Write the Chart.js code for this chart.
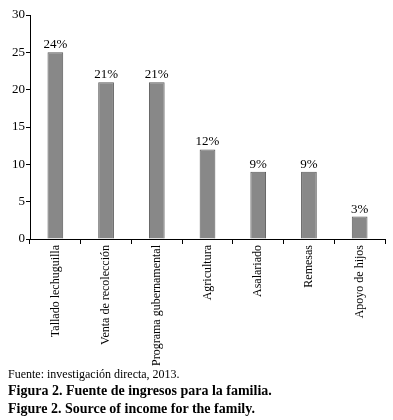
<!DOCTYPE html>
<html><head><meta charset="utf-8">
<script src="https://cdn.jsdelivr.net/npm/chart.js@4"></script>
<style>
html,body{margin:0;padding:0;background:#fff;width:393px;height:420px;overflow:hidden;font-family:"Liberation Serif","Times New Roman",serif;}
#wrap{position:absolute;left:0;top:0;width:393px;height:420px;}
.t{position:absolute;left:8px;white-space:nowrap;color:#000;}
</style></head><body>
<div id="wrap"><canvas id="c"></canvas></div>
<div class="t" style="top:367px;font-size:12px;">Fuente: investigación directa, 2013.</div>
<div class="t" style="top:383px;font-size:14px;font-weight:bold;">Figura 2. Fuente de ingresos para la familia.</div>
<div class="t" style="top:401px;font-size:14px;font-weight:bold;">Figure 2. Source of income for the family.</div>
<script>
const categories = ["Tallado lechuguilla","Venta de recolección","Programa gubernamental","Agricultura","Asalariado","Remesas","Apoyo de hijos"];
const values = [25, 21, 21, 12, 9, 9, 3];
const valueLabels = ["24%","21%","21%","12%","9%","9%","3%"];
const yTicks = [0,5,10,15,20,25,30];

const labelPlugin = {
  id:'vlabels',
  afterDatasetsDraw(chart){
    const ctx = chart.ctx;
    const meta = chart.getDatasetMeta(0);
    ctx.save();
    ctx.font = '13px "Liberation Serif", serif';
    ctx.fillStyle = '#000';
    ctx.textAlign = 'center';
    ctx.textBaseline = 'bottom';
    meta.data.forEach((bar,i)=>{
      ctx.fillText(valueLabels[i], bar.x, bar.y - 1);
    });
    ctx.restore();
  }
};

new Chart(document.getElementById('c'), {
  type:'bar',
  data:{labels:categories, datasets:[{data:values, backgroundColor:'#888888', borderColor:'#5a5a5a', borderWidth:1, categoryPercentage:1, barPercentage:0.31}]},
  options:{
    responsive:true, maintainAspectRatio:false, animation:false,
    layout:{padding:{top:15,right:8,left:0,bottom:0}},
    plugins:{legend:{display:false}, tooltip:{enabled:false}},
    scales:{
      x:{
        offset:true,
        grid:{display:true, drawOnChartArea:false, drawTicks:true, tickLength:5, color:'#000', offset:true},
        border:{color:'#000', width:1},
        ticks:{color:'#000', font:{family:'"Liberation Serif", serif', size:12}, maxRotation:90, minRotation:90, autoSkip:false, padding:1},
        afterFit(s){ s.height = 420 - 239; }
      },
      y:{
        min:0, max:30,
        afterBuildTicks(s){ s.ticks = yTicks.map(v=>({value:v})); },
        grid:{display:true, drawOnChartArea:false, drawTicks:true, tickLength:4, color:'#000'},
        border:{color:'#000', width:1},
        ticks:{color:'#000', font:{family:'"Liberation Serif", serif', size:13}, padding:1},
        afterFit(s){ s.width = 30; }
      }
    }
  },
  plugins:[labelPlugin]
});
</script>
</body></html>
